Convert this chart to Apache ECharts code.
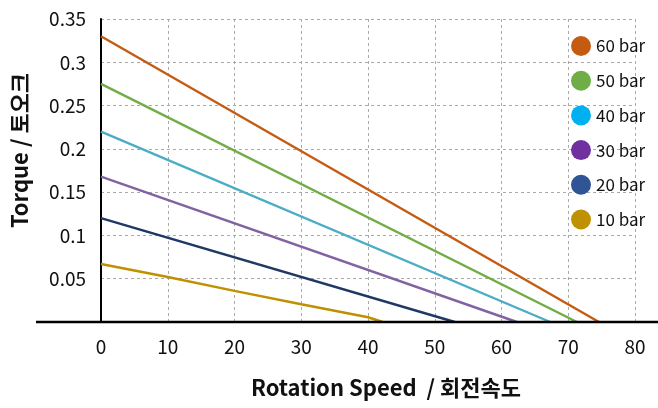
<!DOCTYPE html>
<html>
<head>
<meta charset="utf-8">
<script src="https://cdn.jsdelivr.net/npm/echarts@6/dist/echarts.min.js"></script>
<style>
  html, body { margin: 0; padding: 0; background: #fff; }
  #main { width: 658px; height: 408px; }
</style>
</head>
<body>
<div id="main"></div>
<script>
// 데이터 (회전속도 / 토오크)
var seriesNames = ['60 bar', '50 bar', '40 bar', '30 bar', '20 bar', '10 bar'];
var speed60 = [0, 74.6];
var torque60 = [0.33, 0];
var speed50 = [0, 71.3];
var torque50 = [0.275, 0];
var speed40 = [0, 67.3];
var torque40 = [0.22, 0];
var speed30 = [0, 62.3];
var torque30 = [0.168, 0];
var speed20 = [0, 53.0];
var torque20 = [0.12, 0];
var speed10 = [0, 10, 20, 30, 40, 42.2];
var torque10 = [0.067, 0.052, 0.036, 0.0205, 0.0055, 0];

var lineColors = ['#C55A11', '#70AD47', '#4BACC6', '#8064A2', '#1F3864', '#BF9000'];
var legendColors = ['#C55A11', '#70AD47', '#00B0F0', '#7030A0', '#2F5597', '#BF9000'];

function pairs(xs, ys) {
    var out = [];
    for (var i = 0; i < xs.length; i++) {
        out.push([xs[i], ys[i]]);
    }
    return out;
}

var allData = [
    pairs(speed60, torque60),
    pairs(speed50, torque50),
    pairs(speed40, torque40),
    pairs(speed30, torque30),
    pairs(speed20, torque20),
    pairs(speed10, torque10)
];

var font = '"Noto Sans CJK KR", "Open Sans", sans-serif';

var dom = document.getElementById('main');
var myChart = echarts.init(dom, null, { renderer: 'canvas' });

var series = seriesNames.map(function (name, i) {
    return {
        name: name,
        type: 'line',
        data: allData[i],
        showSymbol: false,
        symbol: 'none',
        smooth: false,
        lineStyle: { color: lineColors[i], width: 2.4 },
        itemStyle: { color: legendColors[i] },
        z: 3
    };
});

var option = {
    animation: false,
    backgroundColor: '#fff',
    grid: {
        left: 101,
        right: 23,
        top: 19,
        bottom: 86,
        containLabel: false,
        outerBoundsMode: 'none'
    },
    legend: {
        orient: 'vertical',
        left: 566,
        top: 31,
        icon: 'circle',
        itemWidth: 20,
        itemHeight: 20,
        itemGap: 14.7,
        textStyle: { fontSize: 17, color: '#111', fontFamily: font },
        data: seriesNames.map(function (name, i) {
            return { name: name, itemStyle: { color: legendColors[i] } };
        })
    },
    xAxis: {
        type: 'value',
        min: 0,
        max: 80,
        interval: 10,
        name: 'Rotation Speed  / 회전속도',
        nameLocation: 'middle',
        nameGap: 55,
        nameTextStyle: {
            fontSize: 22, fontWeight: 'bold', color: '#111', fontFamily: font,
            padding: [0, 0, 0, 36]
        },
        axisLine: { show: false },
        axisTick: { show: false },
        axisLabel: { fontSize: 19, color: '#111', margin: 15, fontFamily: font },
        splitLine: { show: true, lineStyle: { color: '#aaa', type: [3, 3], width: 1 } }
    },
    yAxis: {
        type: 'value',
        min: 0,
        max: 0.35,
        interval: 0.05,
        name: 'Torque / 토오크',
        nameLocation: 'middle',
        nameGap: 70,
        nameTextStyle: {
            fontSize: 22, fontWeight: 'bold', color: '#111', fontFamily: font,
            padding: [0, 0, 0, 40]
        },
        axisLine: { show: true, lineStyle: { color: '#000', width: 2 } },
        axisTick: { show: false },
        axisLabel: {
            fontSize: 19, color: '#111', margin: 15, fontFamily: font,
            formatter: function (v) { return v === 0 ? '' : String(+v.toFixed(2)); }
        },
        splitLine: { show: true, lineStyle: { color: '#aaa', type: [3, 3], width: 1 } }
    },
    series: series
};

myChart.setOption(option);

// 가로축 선은 그래프 영역보다 넓게 그림
var y0 = myChart.convertToPixel({ gridIndex: 0 }, [0, 0])[1];
myChart.setOption({
    graphic: [{
        type: 'line',
        shape: { x1: 36, y1: y0, x2: 658, y2: y0 },
        style: { stroke: '#000', lineWidth: 2.5 },
        z: 10
    }]
});

window.addEventListener('resize', myChart.resize);
</script>
</body>
</html>
